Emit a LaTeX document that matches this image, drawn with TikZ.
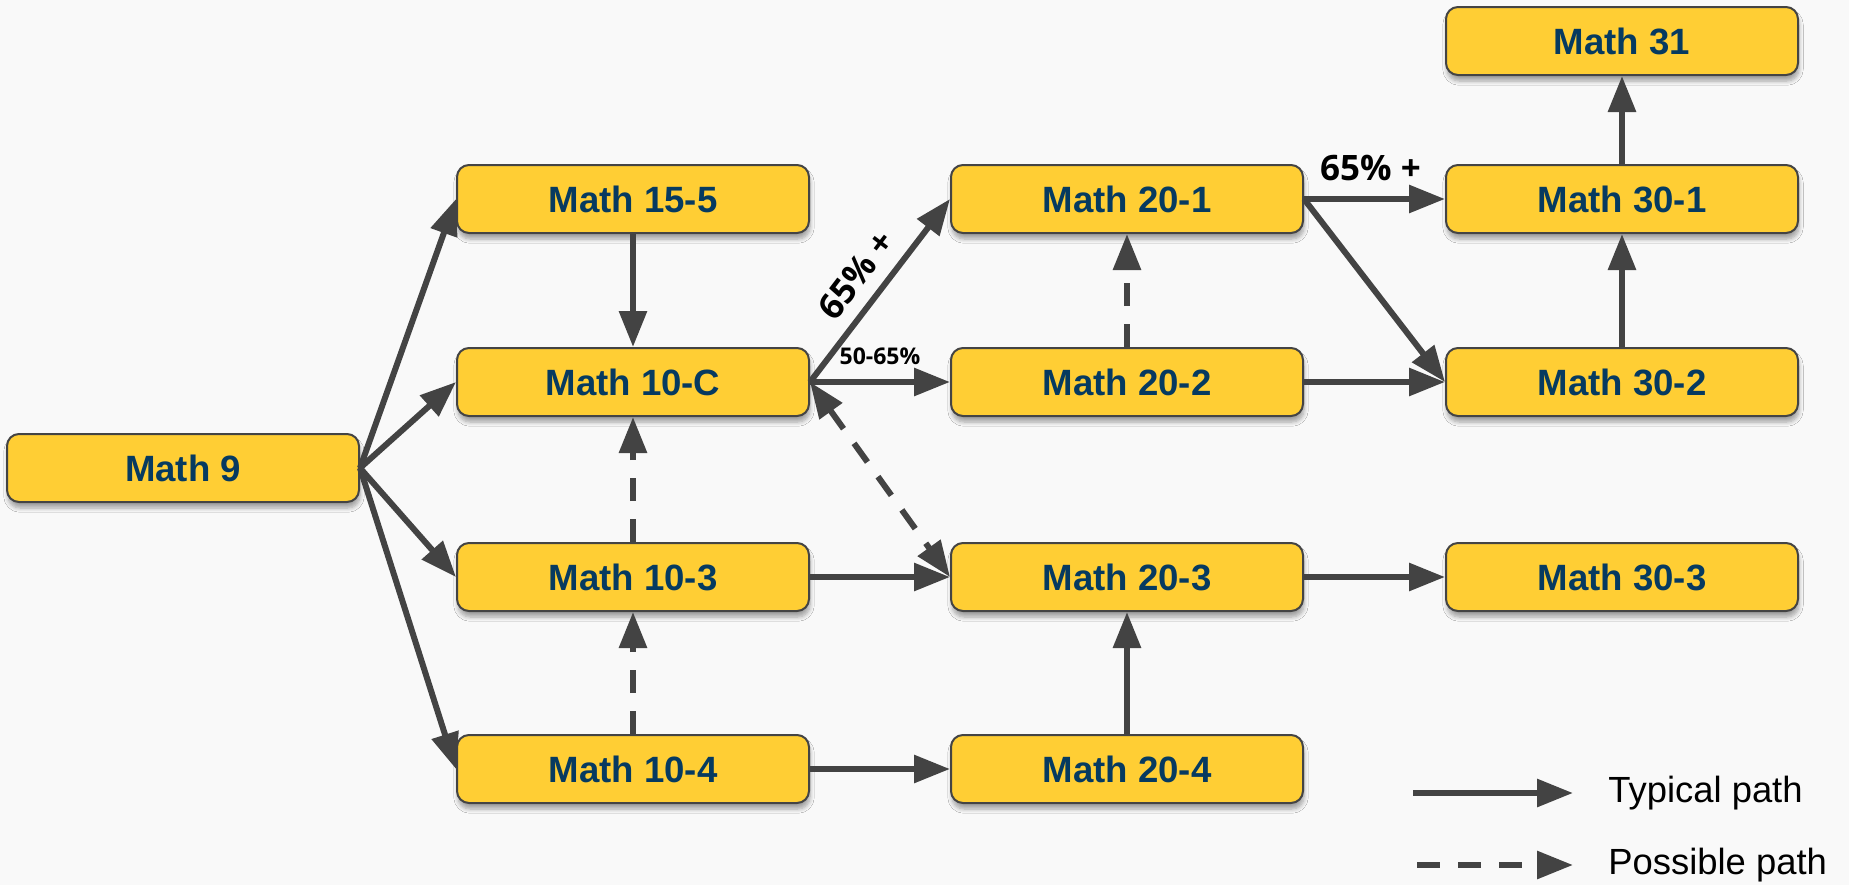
\documentclass[tikz,border=0pt]{standalone}
\usepackage{fontspec}
\setmainfont{Liberation Sans}
\newfontfamily\lblfont{Open Sans}
\usetikzlibrary{arrows.meta,shadows.blur}
\definecolor{boxfill}{HTML}{FFCE34}
\definecolor{boxline}{HTML}{444444}
\definecolor{txtblue}{HTML}{063A60}
\definecolor{arrgray}{HTML}{434343}
\definecolor{bggray}{HTML}{F9F9F9}
\begin{document}
\begin{tikzpicture}[x=0.5pt,y=-0.5pt,
  >={Triangle[length=18pt,width=13.5pt]},
  course/.style={draw=boxline, line width=1pt, fill=boxfill, rounded corners=6pt,
    minimum width=176pt, minimum height=34pt, inner sep=0pt,
    font=\bfseries\fontsize{18.3}{20}\selectfont, text=txtblue,
    blur shadow={shadow xshift=0.5pt, shadow yshift=-3pt, shadow blur steps=6, shadow opacity=35}},
  typ/.style={draw=arrgray, line width=3pt, ->},
  poss/.style={typ, dash pattern=on 11.5pt off 9pt},
  biglbl/.style={font=\lblfont\bfseries\fontsize{17.5}{19}\selectfont, text=black, inner sep=1pt},
  smalllbl/.style={font=\lblfont\bfseries\fontsize{11.5}{13}\selectfont, text=black, inner sep=1pt},
  legtxt/.style={font=\fontsize{18.2}{20}\selectfont, text=black, anchor=west, inner sep=0pt}]
\fill[bggray] (0,0) rectangle (1849,885);
\useasboundingbox (0,0) rectangle (1849,885);

\node[course] (m9)   at (183,468)  {Math 9};
\node[course] (m155) at (633,199)  {Math 15-5};
\node[course] (m10c) at (633,382)  {Math 10-C};
\node[course] (m103) at (633,577)  {Math 10-3};
\node[course] (m104) at (633,769)  {Math 10-4};
\node[course] (m201) at (1127,199) {Math 20-1};
\node[course] (m202) at (1127,382) {Math 20-2};
\node[course] (m203) at (1127,577) {Math 20-3};
\node[course] (m204) at (1127,769) {Math 20-4};
\node[course] (m31)  at (1622,41)  {Math 31};
\node[course] (m301) at (1622,199) {Math 30-1};
\node[course] (m302) at (1622,382) {Math 30-2};
\node[course] (m303) at (1622,577) {Math 30-3};

\draw[typ] (m9.east) -- (m155.west);
\draw[typ] (m9.east) -- (m10c.west);
\draw[typ] (m9.east) -- (m103.west);
\draw[typ] (m9.east) -- (m104.west);
\draw[typ] (m155.south) -- (m10c.north);
\draw[poss] (m103.north) -- (m10c.south);
\draw[poss] (m104.north) -- (m103.south);
\draw[typ] (m10c.east) -- node[biglbl, sloped, above=5.5pt, pos=0.49] {65\% +} (m201.west);
\draw[typ] (m10c.east) -- node[smalllbl, above=6pt] {50-65\%} (m202.west);
\draw[poss, <->] (m10c.east) -- (m203.west);
\draw[typ] (m103.east) -- (m203.west);
\draw[typ] (m104.east) -- (m204.west);
\draw[poss] (m202.north) -- (m201.south);
\draw[typ] (m204.north) -- (m203.south);
\draw[typ] (m201.east) -- node[biglbl, above=6.5pt, xshift=-2pt] {65\% +} (m301.west);
\draw[typ] (m201.east) -- (m302.west);
\draw[typ] (m202.east) -- (m302.west);
\draw[typ] (m302.north) -- (m301.south);
\draw[typ] (m301.north) -- (m31.south);
\draw[typ] (m203.east) -- (m303.west);

\coordinate (l1s) at (1413,793);
\coordinate (l1e) at (1573,793);
\coordinate (l2s) at (1417,865);
\coordinate (l2e) at (1573,865);
\draw[typ] (l1s) -- (l1e);
\draw[poss] (l2s) -- (l2e);
\node[legtxt] (t1) at (1608,793) {Typical path};
\node[legtxt] (t2) at (1608,865) {Possible path};
\end{tikzpicture}
\end{document}
